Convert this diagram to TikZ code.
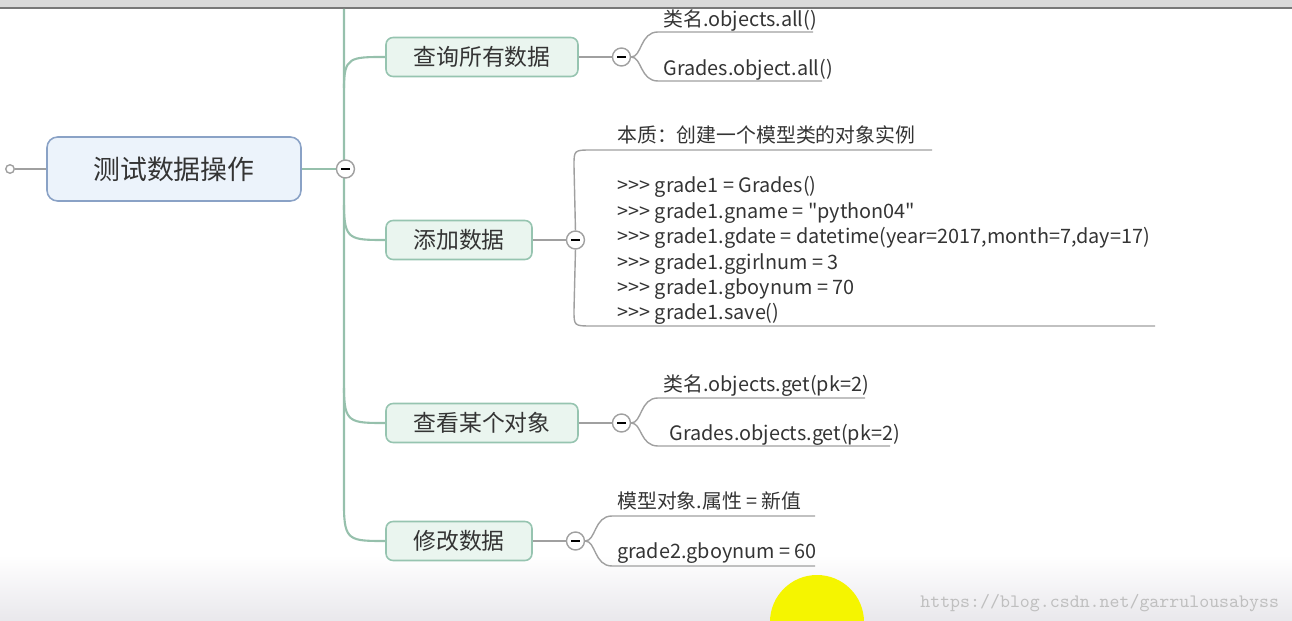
\documentclass[tikz,border=0pt]{standalone}
\usepackage{fontspec}
\newfontfamily\cjk{Noto Sans CJK SC}
\usepackage{xcolor}
\usepackage{tikz}
\usetikzlibrary{positioning,backgrounds}
\definecolor{trunkgreen}{RGB}{150,192,172}
\definecolor{topicfill}{RGB}{234,245,239}
\definecolor{topicedge}{RGB}{150,196,176}
\definecolor{rootfill}{RGB}{236,243,251}
\definecolor{rootedge}{RGB}{138,162,198}
\definecolor{leafedge}{RGB}{160,160,160}
\definecolor{inkgray}{RGB}{52,52,52}
\definecolor{bargray}{RGB}{218,218,218}
\definecolor{bardark}{RGB}{120,120,120}
\definecolor{floorgray}{RGB}{233,232,236}
\definecolor{cursoryellow}{RGB}{245,245,0}

\begin{document}
\begin{tikzpicture}[
  x=0.02cm, y=-0.02cm,
  root/.style={draw=rootedge, line width=0.9pt, fill=rootfill, rounded corners=6pt,
    minimum width=5.08cm, minimum height=1.28cm, text=inkgray, font=\cjk\fontsize{15.3}{18}\selectfont},
  topic/.style={draw=topicedge, line width=0.9pt, fill=topicfill, rounded corners=4pt,
    minimum height=0.78cm, text=inkgray, font=\cjk\fontsize{13}{16}\selectfont},
  toggle/.style={circle, draw=leafedge, line width=0.8pt, fill=white, minimum size=0.36cm, inner sep=0pt},
  inlet/.style={circle, draw=leafedge, line width=0.8pt, fill=white, minimum size=0.17cm, inner sep=0pt},
  leaf/.style={anchor=base west, inner sep=0pt, text=inkgray, font=\cjk\fontsize{11.3}{14.5}\selectfont},
  trunk/.style={draw=trunkgreen, line width=1.2pt},
  twig/.style={draw=leafedge, line width=0.8pt},
  watermark/.style={anchor=base west, inner sep=0pt, text=black!25, font=\fontsize{10.8}{12}\ttfamily}
]
\useasboundingbox (0,0) rectangle (1292,621);

% central topic
\node[root] (root) at (174,169) {测试数据操作};
\node[inlet] (inlet) at (10,169) {};
\node[toggle, right=0.68cm of root] (rootT) {\rule{5pt}{1.1pt}};

% main topics
\node[topic, minimum width=3.84cm] (query) at (482,57) {查询所有数据};
\node[topic, minimum width=2.92cm] (add) at (459,240) {添加数据};
\node[topic, minimum width=3.84cm] (view) at (482,423) {查看某个对象};
\node[topic, minimum width=2.92cm] (modify) at (459,541) {修改数据};

\node[toggle, right=0.66cm of query] (queryT) {\rule{5pt}{1.1pt}};
\node[toggle, right=0.66cm of add] (addT) {\rule{5pt}{1.1pt}};
\node[toggle, right=0.66cm of view] (viewT) {\rule{5pt}{1.1pt}};
\node[toggle, right=0.66cm of modify] (modifyT) {\rule{5pt}{1.1pt}};

% leaves
\node[leaf] (q1) at (663,27) {类名.objects.all()};
\node[leaf] (q2) at (663,76) {Grades.object.all()};
\node[leaf] (a0) at (617,143) {本质：创建一个模型类的对象实例};
\node[leaf, anchor=north west, align=left] (code) at (617,176) {>>> grade1 = Grades()\\
>>> grade1.gname = "python04"\\
>>> grade1.gdate = datetime(year=2017,month=7,day=17)\\
>>> grade1.ggirlnum = 3\\
>>> grade1.gboynum = 70\\
>>> grade1.save()};
\node[leaf] (v1) at (663,392) {类名.objects.get(pk=2)};
\node[leaf] (v2) at (669,441) {Grades.objects.get(pk=2)};
\node[leaf] (m1) at (617,509) {模型对象.属性 = 新值};
\node[leaf] (m2) at (617,559) {grade2.gboynum = 60};

\coordinate (q1end) at (813,32);
\coordinate (q2end) at (822,81);
\coordinate (a0end) at (932,150);
\coordinate (codeend) at (1155,326);
\coordinate (v1end) at (865,398);
\coordinate (v2end) at (890,446);
\coordinate (m1end) at (815,516);
\coordinate (m2end) at (815,566);

\node[watermark] (mark) at (920,607) {https://blog.csdn.net/garrulousabyss};

\begin{scope}[on background layer]
% screen frame
\shade[top color=white, bottom color=floorgray] (0,555) rectangle (1292,621);
\fill[bargray] (0,0) rectangle (1292,7);
\draw[bardark, line width=1pt] (0,8) -- (1292,8);
\fill[cursoryellow] (817,622) circle (47);

% trunk and branches
\draw[twig] (inlet) -- (root);
\draw[trunk] (root) -- (rootT);
\draw[trunk] (344,9) -- (344,506) .. controls (344,541) and (350,541) .. (modify.west);
\draw[trunk] (344,88) .. controls (344,57) and (350,57) .. (query.west);
\draw[trunk] (344,205) .. controls (344,240) and (350,240) .. (add.west);
\draw[trunk] (344,388) .. controls (344,423) and (350,423) .. (view.west);

\draw[twig] (query) -- (queryT);
\draw[twig] (add) -- (addT);
\draw[twig] (view) -- (viewT);
\draw[twig] (modify) -- (modifyT);

\draw[twig] (queryT.east) .. controls (642,57) and (640,32) .. (658,32) -- (q1end);
\draw[twig] (queryT.east) .. controls (642,57) and (640,81) .. (658,81) -- (q2end);
\draw[twig] (addT.north) -- (574,166) .. controls (574,150) .. (592,150) -- (a0end);
\draw[twig] (addT.south) -- (574,310) .. controls (574,326) .. (592,326) -- (codeend);
\draw[twig] (viewT.east) .. controls (642,423) and (640,398) .. (658,398) -- (v1end);
\draw[twig] (viewT.east) .. controls (642,423) and (640,446) .. (658,446) -- (v2end);
\draw[twig] (modifyT.east) .. controls (596,541) and (594,516) .. (612,516) -- (m1end);
\draw[twig] (modifyT.east) .. controls (596,541) and (594,566) .. (612,566) -- (m2end);
\end{scope}
\end{tikzpicture}
\end{document}
